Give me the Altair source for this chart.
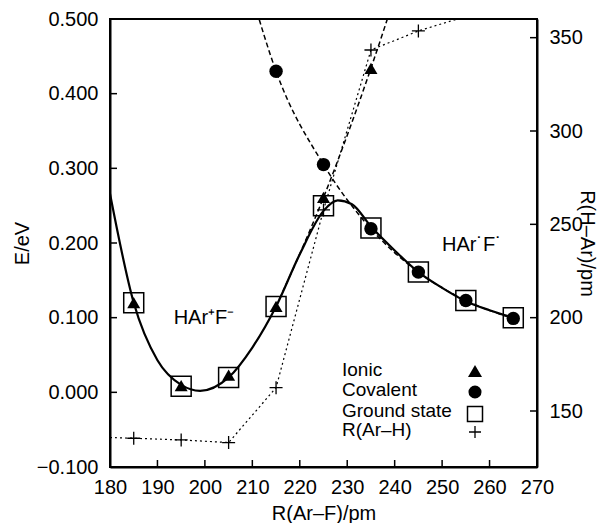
import altair as alt
import pandas as pd

# ---------------- data ----------------
# Ionic state (triangles) and its dashed curve
ion_r = [185, 195, 205, 215, 225, 235]
ion_e = [0.120, 0.009, 0.023, 0.115, 0.261, 0.434]
ion_curve_r = [215, 225, 235, 240]
ion_curve_e = [0.115, 0.261, 0.434, 0.530]

# Covalent state (circles) and its dashed curve
cov_r = [215, 225, 235, 245, 255, 265]
cov_e = [0.430, 0.305, 0.219, 0.161, 0.123, 0.099]
cov_curve_r = [210, 215, 225, 235, 245, 255, 265]
cov_curve_e = [0.530, 0.430, 0.305, 0.219, 0.161, 0.123, 0.099]

# Ground state (open squares) and its solid fitted curve
gs_r = [185, 195, 205, 215, 225, 235, 245, 255, 265]
gs_e = [0.120, 0.008, 0.020, 0.115, 0.250, 0.220, 0.161, 0.123, 0.100]
gs_curve_r = [180, 185, 190, 195, 199, 205, 210, 215, 220, 225, 228, 231, 235, 240, 245, 250, 255, 260, 265]
gs_curve_e = [0.266, 0.120, 0.043, 0.010, 0.002, 0.020, 0.060, 0.115, 0.185, 0.243, 0.257, 0.252, 0.222, 0.190, 0.161, 0.140, 0.122, 0.110, 0.100]

# R(Ar-H) (plus signs, right axis)
arh_r = [185, 195, 205, 215, 225, 235, 245]
arh_v = [135.4, 134.5, 133.1, 162.5, 257.7, 343.4, 353.6]
arh_line_r = [180, 185, 195, 205, 215, 225, 235, 245, 255]
arh_line_v = [135.8, 135.4, 134.5, 133.1, 162.5, 257.7, 343.4, 353.6, 361.4]

# axes
x_ticks = [180, 190, 200, 210, 220, 230, 240, 250, 260, 270]
e_ticks = [-0.1, 0.0, 0.1, 0.2, 0.3, 0.4, 0.5]
r_ticks = [150, 200, 250, 300, 350]

legend_labels = ["Ionic", "Covalent", "Ground state", "R(Ar\u2013H)"]

# ---------------- chart ----------------
W, H = 427, 448
FONT = "Liberation Sans"
PLUS = "M-1,0L1,0M0,-1L0,1"

xs = alt.Scale(domain=[180, 270], nice=False, zero=False)
ys = alt.Scale(domain=[-0.1, 0.5], nice=False, zero=False)
rs = alt.Scale(domain=[120, 360], nice=False, zero=False)

x_axis = alt.Axis(values=x_ticks, title="R(Ar\u2013F)/pm", ticks=False, grid=False,
                  labelFontSize=20, labelPadding=10, labelFlush=False, labelOverlap=False,
                  labelColor="black", domainColor="black", domainWidth=2,
                  titleFontSize=20, titleFontWeight="normal", titleColor="black",
                  titleY=46, titleBaseline="middle")
y_axis = alt.Axis(values=e_ticks, format=".3f", title="E/eV", ticks=False, grid=False,
                  labelFontSize=20, labelPadding=12, labelFlush=False, labelOverlap=False,
                  labelColor="black", domainColor="black", domainWidth=2,
                  titleFontSize=20, titleFontWeight="normal", titleColor="black",
                  titleX=-88, titleY=H / 2, titleAlign="center", titleBaseline="middle")
r_axis = alt.Axis(values=r_ticks, format="d", title="R(H\u2013Ar)/pm", orient="right", ticks=False, grid=False,
                  labelFontSize=20, labelPadding=12, labelFlush=False, labelOverlap=False,
                  labelColor="black", domainColor="black", domainWidth=2,
                  titleFontSize=20, titleFontWeight="normal", titleColor="black",
                  titleAngle=90, titleX=49, titleY=H / 2, titleAlign="center", titleBaseline="middle")

df_ion = pd.DataFrame({"r": ion_r, "e": ion_e})
df_ion_c = pd.DataFrame({"r": ion_curve_r, "e": ion_curve_e})
df_cov = pd.DataFrame({"r": cov_r, "e": cov_e})
df_cov_c = pd.DataFrame({"r": cov_curve_r, "e": cov_curve_e})
df_gs = pd.DataFrame({"r": gs_r, "e": gs_e})
df_gs_c = pd.DataFrame({"r": gs_curve_r, "e": gs_curve_e})
df_arh = pd.DataFrame({"r": arh_r, "v": arh_v})
df_arh_c = pd.DataFrame({"r": arh_line_r, "v": arh_line_v})
df_xt = pd.DataFrame({"r": x_ticks})
df_et = pd.DataFrame({"e": e_ticks})
df_rt = pd.DataFrame({"v": r_ticks})

X = alt.X("r:Q", scale=xs, axis=x_axis)
Y = alt.Y("e:Q", scale=ys, axis=y_axis)

gs_line = alt.Chart(df_gs_c).mark_line(color="black", strokeWidth=2.2, interpolate="monotone", clip=True).encode(x=X, y=Y)
ion_line = alt.Chart(df_ion_c).mark_line(color="black", strokeWidth=1.5, strokeDash=[5, 3], interpolate="monotone", clip=True).encode(x=X, y=Y)
cov_line = alt.Chart(df_cov_c).mark_line(color="black", strokeWidth=1.5, strokeDash=[5, 3], interpolate="monotone", clip=True).encode(x=X, y=Y)
gs_pts = alt.Chart(df_gs).mark_point(shape="square", size=400, filled=False, color="black", strokeWidth=1.5, opacity=1).encode(x=X, y=Y)
ion_pts = alt.Chart(df_ion).mark_point(shape="triangle-up", size=169, filled=True, color="black", opacity=1).encode(x=X, y=Y)
cov_pts = alt.Chart(df_cov).mark_point(shape="circle", size=180, filled=True, color="black", opacity=1).encode(x=X, y=Y)

x_tk = alt.Chart(df_xt).mark_rule(color="black", strokeWidth=1.5).encode(x=X, y=alt.value(H), y2=alt.value(H - 7))
e_tk = alt.Chart(df_et).mark_rule(color="black", strokeWidth=1.5).encode(y=Y, x=alt.value(0), x2=alt.value(7))

lbl1 = alt.Chart(pd.DataFrame({"t": ["HAr\u207aF\u207b"]})).mark_text(fontSize=20, font=FONT, color="black", align="center", baseline="middle").encode(
    text="t:N", x=alt.value(94), y=alt.value(299))
lbl2 = alt.Chart(pd.DataFrame({"t": ["HAr\u02d9F\u02d9"]})).mark_text(fontSize=20, font=FONT, color="black", align="center", baseline="middle").encode(
    text="t:N", x=alt.value(362), y=alt.value(226))

leg_y = [351, 371, 392, 411]
leg_layers = []
for lab, yy in zip(legend_labels, leg_y):
    leg_layers.append(alt.Chart(pd.DataFrame({"t": [lab]})).mark_text(fontSize=19, font=FONT, color="black", align="left", baseline="middle").encode(
        text="t:N", x=alt.value(232), y=alt.value(yy)))
leg_df = pd.DataFrame({"k": [0]})
leg_layers.append(alt.Chart(leg_df).mark_point(shape="triangle-up", size=196, filled=True, color="black", opacity=1).encode(x=alt.value(365), y=alt.value(352)))
leg_layers.append(alt.Chart(leg_df).mark_point(shape="circle", size=170, filled=True, color="black", opacity=1).encode(x=alt.value(365), y=alt.value(373)))
leg_layers.append(alt.Chart(leg_df).mark_point(shape="square", size=225, filled=False, color="black", strokeWidth=1.5, opacity=1).encode(x=alt.value(365), y=alt.value(395)))
leg_layers.append(alt.Chart(leg_df).mark_point(shape=PLUS, size=144, filled=False, color="black", strokeWidth=1.3, opacity=1).encode(x=alt.value(365), y=alt.value(413)))

left = alt.layer(gs_line, ion_line, cov_line, gs_pts, ion_pts, cov_pts, x_tk, e_tk, lbl1, lbl2, *leg_layers)

R = alt.Y("v:Q", scale=rs, axis=r_axis)
arh_line = alt.Chart(df_arh_c).mark_line(color="black", strokeWidth=1.2, strokeDash=[2, 3], clip=True).encode(x=X, y=R)
arh_pts = alt.Chart(df_arh).mark_point(shape=PLUS, size=169, filled=False, color="black", strokeWidth=1.3, opacity=1).encode(x=X, y=R)
r_tk = alt.Chart(df_rt).mark_rule(color="black", strokeWidth=1.5).encode(y=R, x=alt.value(W), x2=alt.value(W - 7))
right = alt.layer(arh_line, arh_pts, r_tk)

chart = alt.layer(left, right).resolve_scale(y="independent").properties(
    width=W, height=H,
    autosize=alt.AutoSizeParams(type="none"),
    padding={"left": 102, "top": 11, "right": 60, "bottom": 56},
).configure(font=FONT).configure_view(stroke="black", strokeWidth=2).configure_axis(labelFont=FONT, titleFont=FONT)

chart.save("out.html", embed_options={"renderer": "svg", "actions": False})
